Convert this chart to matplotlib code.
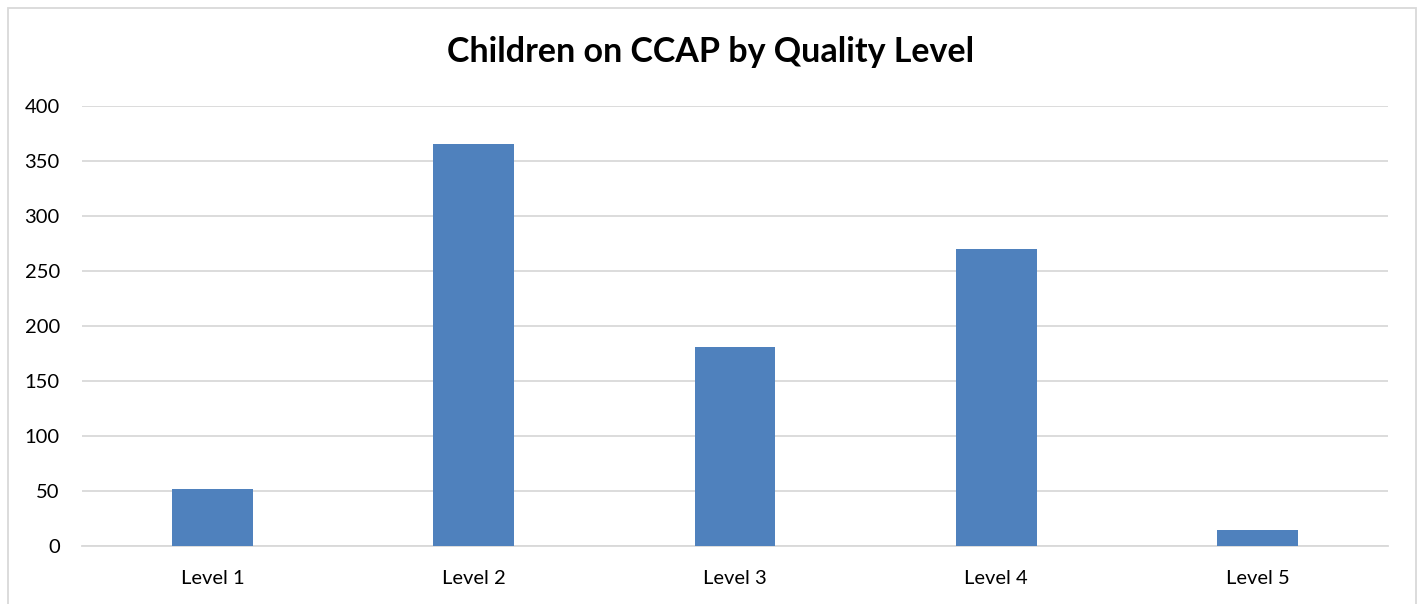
import matplotlib.pyplot as plt
from matplotlib.patches import Rectangle

levels = ['Level 1', 'Level 2', 'Level 3', 'Level 4', 'Level 5']
children = [52, 365, 181, 270, 15]
yticks = [0, 50, 100, 150, 200, 250, 300, 350, 400]

plt.rcParams['font.family'] = ['Lato', 'DejaVu Sans']

fig = plt.figure(figsize=(14.21, 6.04), dpi=100)
W, H = 1421, 604
ax = fig.add_axes([82 / W, 1 - 546 / H, (1388 - 82) / W, (546 - 106) / H])

x = range(len(levels))
ax.bar(x, children, width=0.31, color='#4f81bd', zorder=3)

ax.set_xlim(-0.5, len(levels) - 0.5)
ax.set_ylim(0, 400)
ax.set_yticks(yticks)
ax.set_xticks(list(x))
ax.set_xticklabels(levels)
ax.grid(axis='y', color='#d9d9d9', linewidth=1.3, zorder=0)
ax.tick_params(axis='both', length=0, labelsize=14.5, colors='#000000')
ax.tick_params(axis='y', pad=16)
ax.tick_params(axis='x', pad=17)
for s in ax.spines.values():
    s.set_visible(False)
ax.spines['bottom'].set_visible(True)
ax.spines['bottom'].set_color('#d9d9d9')
ax.spines['bottom'].set_linewidth(1.3)

fig.text(0.5, 1 - 52 / H, 'Children on CCAP by Quality Level', ha='center', va='center',
         fontsize=24.5, fontweight='bold')

# outer chart border
fig.patches.append(Rectangle((8 / W, -0.01), (1416 - 8) / W, 1 - 8 / H + 0.01,
                             transform=fig.transFigure, fill=False,
                             edgecolor='#d9d9d9', linewidth=1.3))

fig.savefig('out.png', dpi=100)
